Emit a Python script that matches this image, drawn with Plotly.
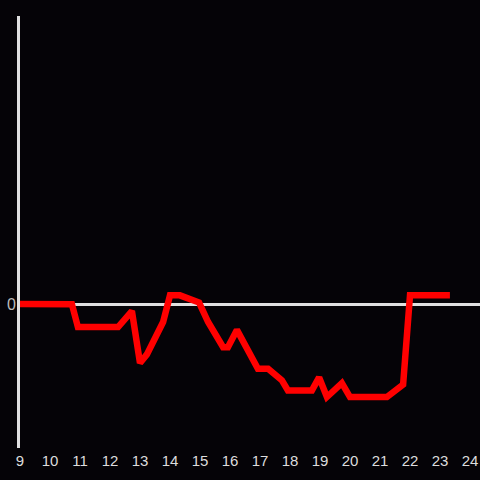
import plotly.graph_objects as go

hours = [9.0, 10.0, 10.73, 10.93, 12.27, 12.73, 13.0, 13.23, 13.77, 14.0, 14.33,
         14.97, 15.27, 15.77, 15.93, 16.23, 16.77, 16.93, 17.27, 17.73, 17.93,
         18.73, 18.97, 19.23, 19.73, 20.0, 21.23, 21.77, 22.0, 23.33]
values = [0.0, 0.003, -0.002, -0.16, -0.16, -0.049, -0.41, -0.35, -0.125, 0.06, 0.06,
          0.01, -0.125, -0.30, -0.30, -0.18, -0.40, -0.45, -0.45, -0.53, -0.60,
          -0.60, -0.51, -0.646, -0.55, -0.646, -0.646, -0.56, 0.06, 0.06]
xticks = list(range(9, 25))

fig = go.Figure()
fig.add_trace(go.Scatter(x=hours, y=values, mode="lines",
                         line=dict(color="#ff0000", width=6.5)))

bg = "#050307"
fig.update_layout(
    width=480, height=480,
    paper_bgcolor=bg, plot_bgcolor=bg,
    margin=dict(l=20, r=0, t=16, b=32, autoexpand=False),
    showlegend=False,
    font=dict(family="Liberation Sans, Arial, sans-serif", size=15, color="#dddddd"),
    xaxis=dict(range=[9, 24.333], tickvals=xticks, ticktext=[str(t) for t in xticks],
               showgrid=False, zeroline=False, showline=False, ticks="",
               automargin=False, ticklabelstandoff=2,
               tickfont=dict(size=15, color="#dddddd")),
    yaxis=dict(range=[-1, 2], tickvals=[0], ticktext=["0"], showgrid=False,
               zeroline=True, zerolinecolor="#e0e0e0", zerolinewidth=3,
               showline=True, linecolor="#e0e0e0", linewidth=3, ticks="",
               ticklabelstandoff=-2, automargin=False,
               tickfont=dict(size=16, color="#bbbbbb")),
)
fig.write_html("out.html", config={"displayModeBar": False},
               post_script="document.body.style.margin='0';document.body.style.background='#050307';")
